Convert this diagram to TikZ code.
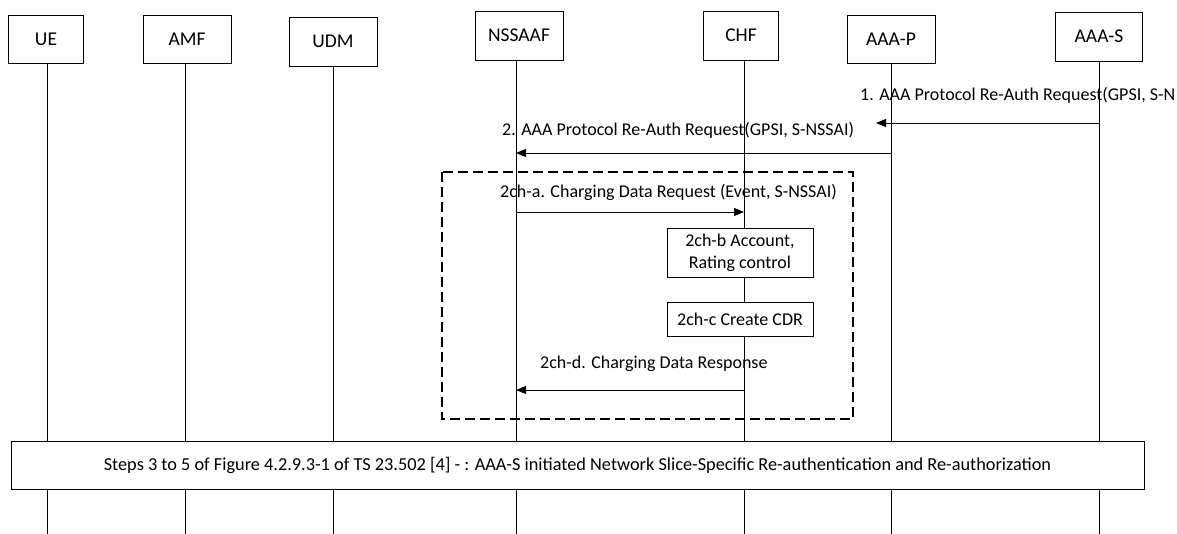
\documentclass[tikz,border=0pt]{standalone}
\usepackage{fontspec}
\setmainfont{Carlito}
\usetikzlibrary{arrows.meta}

\begin{document}
\begin{tikzpicture}
[x=1pt,y=-1pt,
 entity/.style={draw,fill=white,minimum width=88pt,minimum height=48pt,inner sep=0pt,font=\fontsize{19.5}{22}\selectfont},
 action/.style={draw,fill=white,minimum width=146pt,inner sep=0pt,align=center,font=\fontsize{18}{22}\selectfont},
 life/.style={line width=0.9pt},
 msg/.style={-{Triangle[length=10pt,width=8pt]},line width=0.9pt},
 msgtext/.style={anchor=west,inner sep=0pt,font=\fontsize{18}{21}\selectfont},
 group/.style={dashed,dash pattern=on 10pt off 5pt,line width=1.6pt}]
\useasboundingbox (0,0) rectangle (1177,534);
\node (ue) at (46,39) [entity,minimum width=75pt] {UE};
\node (amf) at (187,39) [entity] {AMF};
\node (udm) at (333,41.5) [entity,minimum height=49pt] {UDM};
\node (nssaaf) at (519,35.5) [entity,minimum height=49pt] {NSSAAF};
\node (chf) at (741,35.5) [entity,minimum width=75pt,minimum height=49pt] {CHF};
\node (aaap) at (891,39) [entity] {AAA-P};
\node (aaas) at (1099,36.5) [entity,minimum width=87pt,minimum height=49pt] {AAA-S};
\coordinate (ue-end) at (47,534);
\coordinate (amf-end) at (185,534);
\coordinate (udm-end) at (333,534);
\coordinate (nssaaf-end) at (516,534);
\coordinate (chf-end) at (744,534);
\coordinate (aaap-end) at (891,534);
\coordinate (aaas-end) at (1099,534);
\draw [life] (ue.south -| ue-end) -- (ue-end);
\draw [life] (amf.south -| amf-end) -- (amf-end);
\draw [life] (udm.south -| udm-end) -- (udm-end);
\draw [life] (nssaaf.south -| nssaaf-end) -- (nssaaf-end);
\draw [life] (chf.south -| chf-end) -- (chf-end);
\draw [life] (aaap.south -| aaap-end) -- (aaap-end);
\draw [life] (aaas.south -| aaas-end) -- (aaas-end);
\coordinate (m1) at (876,123);
\node (t1) at (860,95) [msgtext] {1. AAA Protocol Re-Auth Request(GPSI, S-N};
\draw [msg] (aaas-end |- m1) -- (m1);
\node (t2) at (502,130) [msgtext] {2. AAA Protocol Re-Auth Request(GPSI, S-NSSAI)};
\draw [msg] (aaap-end |- 0,153) -- (nssaaf-end |- 0,153);
\draw [group] (442,172) rectangle (853,419);
\node (t3) at (500,192) [msgtext] {2ch-a. Charging Data Request (Event, S-NSSAI)};
\draw [msg] (nssaaf-end |- 0,212) -- (chf-end |- 0,212);
\node (rate) at (740,252.5) [action,minimum height=49pt] {2ch-b Account,\\Rating control};
\node (cdr) at (740,319) [action,minimum height=34pt] {2ch-c Create CDR};
\node (t4) at (540,364) [msgtext] {2ch-d. Charging Data Response};
\draw [msg] (chf-end |- 0,390) -- (nssaaf-end |- 0,390);
\node (steps) at (577.5,465) [draw,fill=white,minimum width=1133pt,minimum height=48pt,inner sep=0pt,font=\fontsize{18.3}{21}\selectfont] {Steps 3 to 5 of Figure 4.2.9.3-1 of TS 23.502 [4] - : AAA-S initiated Network Slice-Specific Re-authentication and Re-authorization};
\end{tikzpicture}
\end{document}
